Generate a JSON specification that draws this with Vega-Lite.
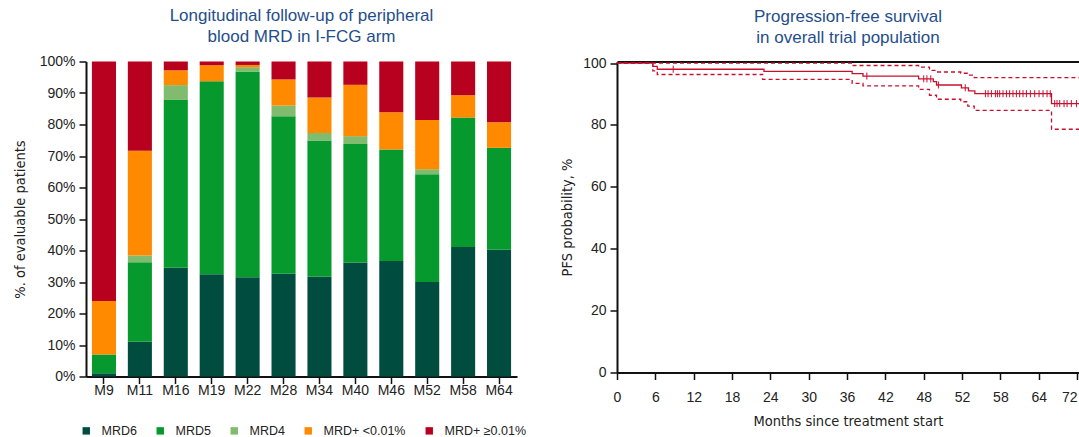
{
  "$schema": "https://vega.github.io/schema/vega-lite/v6.json",
  "padding": {"left": 12, "top": 6.5, "right": 0, "bottom": 0},
  "spacing": 42,
  "config": {
    "view": {"stroke": null},
    "font": "Liberation Sans",
    "axis": {
      "labelFont": "Liberation Sans",
      "labelFontSize": 14,
      "labelColor": "#222222",
      "domainColor": "#111111",
      "domainWidth": 2,
      "tickColor": "#111111",
      "tickWidth": 1.5,
      "tickSize": 7,
      "grid": false,
      "titleFont": "Liberation Sans Narrow, DejaVu Sans Condensed, Liberation Sans",
      "titleFontWeight": "normal",
      "titleFontSize": 14.5,
      "titleColor": "#222222"
    },
    "title": {
      "font": "Liberation Sans",
      "fontSize": 17,
      "fontWeight": "normal",
      "color": "#1f4e8c",
      "lineHeight": 21,
      "offset": 9,
      "anchor": "middle"
    },
    "legend": {
      "labelFont": "Liberation Sans",
      "labelFontSize": 12.5,
      "labelColor": "#222222"
    }
  },
  "hconcat": [
    {
      "title": {"text": ["Longitudinal follow-up of peripheral", "blood MRD in I-FCG arm"]},
      "width": 431,
      "height": 315,
      "data": {
        "values": [
          {"visit": "M9", "status": "MRD6", "k": 1, "pct": 1},
          {"visit": "M9", "status": "MRD5", "k": 2, "pct": 6},
          {"visit": "M9", "status": "MRD+ <0.01%", "k": 4, "pct": 17},
          {"visit": "M9", "status": "MRD+ ≥0.01%", "k": 5, "pct": 76},
          {"visit": "M11", "status": "MRD6", "k": 1, "pct": 11},
          {"visit": "M11", "status": "MRD5", "k": 2, "pct": 25.3},
          {"visit": "M11", "status": "MRD4", "k": 3, "pct": 2.1},
          {"visit": "M11", "status": "MRD+ <0.01%", "k": 4, "pct": 33.3},
          {"visit": "M11", "status": "MRD+ ≥0.01%", "k": 5, "pct": 28.3},
          {"visit": "M16", "status": "MRD6", "k": 1, "pct": 34.5},
          {"visit": "M16", "status": "MRD5", "k": 2, "pct": 53.4},
          {"visit": "M16", "status": "MRD4", "k": 3, "pct": 4.6},
          {"visit": "M16", "status": "MRD+ <0.01%", "k": 4, "pct": 4.7},
          {"visit": "M16", "status": "MRD+ ≥0.01%", "k": 5, "pct": 2.8},
          {"visit": "M19", "status": "MRD6", "k": 1, "pct": 32.5},
          {"visit": "M19", "status": "MRD5", "k": 2, "pct": 61.2},
          {"visit": "M19", "status": "MRD+ <0.01%", "k": 4, "pct": 5.1},
          {"visit": "M19", "status": "MRD+ ≥0.01%", "k": 5, "pct": 1.2},
          {"visit": "M22", "status": "MRD6", "k": 1, "pct": 31.5},
          {"visit": "M22", "status": "MRD5", "k": 2, "pct": 65.2},
          {"visit": "M22", "status": "MRD4", "k": 3, "pct": 1.5},
          {"visit": "M22", "status": "MRD+ <0.01%", "k": 4, "pct": 0.7},
          {"visit": "M22", "status": "MRD+ ≥0.01%", "k": 5, "pct": 1.1},
          {"visit": "M28", "status": "MRD6", "k": 1, "pct": 32.6},
          {"visit": "M28", "status": "MRD5", "k": 2, "pct": 50.0},
          {"visit": "M28", "status": "MRD4", "k": 3, "pct": 3.4},
          {"visit": "M28", "status": "MRD+ <0.01%", "k": 4, "pct": 8.3},
          {"visit": "M28", "status": "MRD+ ≥0.01%", "k": 5, "pct": 5.7},
          {"visit": "M34", "status": "MRD6", "k": 1, "pct": 31.7},
          {"visit": "M34", "status": "MRD5", "k": 2, "pct": 43.2},
          {"visit": "M34", "status": "MRD4", "k": 3, "pct": 2.4},
          {"visit": "M34", "status": "MRD+ <0.01%", "k": 4, "pct": 11.3},
          {"visit": "M34", "status": "MRD+ ≥0.01%", "k": 5, "pct": 11.4},
          {"visit": "M40", "status": "MRD6", "k": 1, "pct": 36.2},
          {"visit": "M40", "status": "MRD5", "k": 2, "pct": 37.6},
          {"visit": "M40", "status": "MRD4", "k": 3, "pct": 2.5},
          {"visit": "M40", "status": "MRD+ <0.01%", "k": 4, "pct": 16.3},
          {"visit": "M40", "status": "MRD+ ≥0.01%", "k": 5, "pct": 7.4},
          {"visit": "M46", "status": "MRD6", "k": 1, "pct": 36.7},
          {"visit": "M46", "status": "MRD5", "k": 2, "pct": 35.4},
          {"visit": "M46", "status": "MRD+ <0.01%", "k": 4, "pct": 11.8},
          {"visit": "M46", "status": "MRD+ ≥0.01%", "k": 5, "pct": 16.1},
          {"visit": "M52", "status": "MRD6", "k": 1, "pct": 30.0},
          {"visit": "M52", "status": "MRD5", "k": 2, "pct": 34.2},
          {"visit": "M52", "status": "MRD4", "k": 3, "pct": 1.6},
          {"visit": "M52", "status": "MRD+ <0.01%", "k": 4, "pct": 15.6},
          {"visit": "M52", "status": "MRD+ ≥0.01%", "k": 5, "pct": 18.6},
          {"visit": "M58", "status": "MRD6", "k": 1, "pct": 41.1},
          {"visit": "M58", "status": "MRD5", "k": 2, "pct": 41.1},
          {"visit": "M58", "status": "MRD+ <0.01%", "k": 4, "pct": 7.1},
          {"visit": "M58", "status": "MRD+ ≥0.01%", "k": 5, "pct": 10.7},
          {"visit": "M64", "status": "MRD6", "k": 1, "pct": 40.2},
          {"visit": "M64", "status": "MRD5", "k": 2, "pct": 32.4},
          {"visit": "M64", "status": "MRD+ <0.01%", "k": 4, "pct": 8.1},
          {"visit": "M64", "status": "MRD+ ≥0.01%", "k": 5, "pct": 19.3}
        ]
      },
      "mark": {"type": "bar"},
      "encoding": {
        "x": {
          "field": "visit",
          "type": "ordinal",
          "sort": null,
          "scale": {"paddingInner": 0.33, "paddingOuter": 0.165},
          "axis": {"title": null, "labelAngle": 0, "labelPadding": 0}
        },
        "y": {
          "field": "pct",
          "type": "quantitative",
          "stack": "zero",
          "scale": {"domain": [0, 100], "nice": false},
          "axis": {
            "values": [0, 10, 20, 30, 40, 50, 60, 70, 80, 90, 100],
            "labelExpr": "datum.value + '%'",
            "title": "%. of evaluable patients",
            "labelPadding": 4,
            "titlePadding": 12
          }
        },
        "color": {
          "field": "status",
          "type": "nominal",
          "scale": {
            "domain": ["MRD6", "MRD5", "MRD4", "MRD+ <0.01%", "MRD+ ≥0.01%"],
            "range": ["#004d40", "#05992e", "#80bb6e", "#ff8a00", "#b8001f"]
          },
          "legend": {
            "title": null,
            "orient": "none",
            "direction": "horizontal",
            "legendX": -6,
            "legendY": 363,
            "symbolType": "square",
            "symbolSize": 55,
            "symbolStrokeWidth": 0,
            "labelOffset": 9,
            "columnPadding": 17
          }
        },
        "order": {"field": "k", "type": "quantitative"}
      }
    },
    {
      "title": {"text": ["Progression-free survival", "in overall trial population"]},
      "width": 462,
      "height": 311,
      "layer": [
        {
          "data": {
            "values": [
              {"series": "estimate", "t": 0, "s": 100},
              {"series": "estimate", "t": 5.6, "s": 98.9},
              {"series": "estimate", "t": 6.3, "s": 98.0},
              {"series": "estimate", "t": 23.0, "s": 97.3},
              {"series": "estimate", "t": 36.8, "s": 96.6},
              {"series": "estimate", "t": 38.5, "s": 95.8},
              {"series": "estimate", "t": 47.2, "s": 94.9},
              {"series": "estimate", "t": 49.5, "s": 94.0},
              {"series": "estimate", "t": 50.0, "s": 92.9},
              {"series": "estimate", "t": 53.9, "s": 92.0},
              {"series": "estimate", "t": 55.0, "s": 91.0},
              {"series": "estimate", "t": 56.0, "s": 90.1},
              {"series": "estimate", "t": 68.0, "s": 86.9},
              {"series": "estimate", "t": 72.3, "s": 86.9},
              {"series": "upper", "t": 0, "s": 100},
              {"series": "upper", "t": 36.8, "s": 99.2},
              {"series": "upper", "t": 47.2, "s": 98.7},
              {"series": "upper", "t": 48.9, "s": 97.6},
              {"series": "upper", "t": 50.0, "s": 97.1},
              {"series": "upper", "t": 53.8, "s": 96.7},
              {"series": "upper", "t": 54.9, "s": 96.1},
              {"series": "upper", "t": 55.9, "s": 95.3},
              {"series": "upper", "t": 72.3, "s": 95.3},
              {"series": "lower", "t": 0, "s": 100},
              {"series": "lower", "t": 5.6, "s": 97.5},
              {"series": "lower", "t": 6.3, "s": 96.3},
              {"series": "lower", "t": 22.8, "s": 94.7},
              {"series": "lower", "t": 36.8, "s": 93.4},
              {"series": "lower", "t": 38.5, "s": 92.6},
              {"series": "lower", "t": 47.2, "s": 91.5},
              {"series": "lower", "t": 48.9, "s": 89.6},
              {"series": "lower", "t": 50.0, "s": 88.3},
              {"series": "lower", "t": 53.8, "s": 87.5},
              {"series": "lower", "t": 54.9, "s": 86.1},
              {"series": "lower", "t": 55.9, "s": 84.7},
              {"series": "lower", "t": 68.0, "s": 78.6},
              {"series": "lower", "t": 72.3, "s": 78.6}
            ]
          },
          "mark": {"type": "line", "interpolate": "step-after", "strokeWidth": 1.3, "color": "#c8102e"},
          "encoding": {
            "x": {
              "field": "t",
              "type": "quantitative",
              "scale": {"domain": [0, 72.3], "nice": false, "zero": false},
              "axis": {
                "values": [0, 6, 12, 18, 24, 30, 36, 42, 48, 54, 60, 66, 72],
                "labelExpr": "datum.value == 54 ? '52' : datum.value == 60 ? '58' : datum.value == 66 ? '64' : datum.label",
                "labelAlign": {"condition": {"test": "datum.value === 72", "value": "right"}, "value": "center"},
                "labelPadding": 11,
                "title": "Months since treatment start",
                "titlePadding": 10
              }
            },
            "y": {
              "field": "s",
              "type": "quantitative",
              "scale": {"domain": [0, 100.5], "nice": false},
              "axis": {
                "values": [0, 20, 40, 60, 80, 100],
                "title": "PFS probability, %",
                "labelPadding": 4,
                "titlePadding": 8
              }
            },
            "detail": {"field": "series"},
            "strokeDash": {
              "field": "series",
              "type": "nominal",
              "scale": {"domain": ["estimate", "upper", "lower"], "range": [[1, 0], [4, 3], [4, 3]]},
              "legend": null
            }
          }
        },
        {
          "data": {
            "values": [
              {"t": 8.8, "s": 98.0},
              {"t": 39.1, "s": 95.8},
              {"t": 48.0, "s": 94.9},
              {"t": 48.5, "s": 94.9},
              {"t": 49.1, "s": 94.9},
              {"t": 50.3, "s": 92.9},
              {"t": 54.5, "s": 92.0},
              {"t": 57.65, "s": 90.1},
              {"t": 58.07, "s": 90.1},
              {"t": 58.59, "s": 90.1},
              {"t": 59.22, "s": 90.1},
              {"t": 59.53, "s": 90.1},
              {"t": 59.89, "s": 90.1},
              {"t": 60.41, "s": 90.1},
              {"t": 60.94, "s": 90.1},
              {"t": 61.45, "s": 90.1},
              {"t": 61.97, "s": 90.1},
              {"t": 62.5, "s": 90.1},
              {"t": 63.02, "s": 90.1},
              {"t": 63.54, "s": 90.1},
              {"t": 64.07, "s": 90.1},
              {"t": 64.69, "s": 90.1},
              {"t": 65.37, "s": 90.1},
              {"t": 66.05, "s": 90.1},
              {"t": 66.67, "s": 90.1},
              {"t": 67.3, "s": 90.1},
              {"t": 67.8, "s": 90.1},
              {"t": 68.5, "s": 86.9},
              {"t": 68.86, "s": 86.9},
              {"t": 69.28, "s": 86.9},
              {"t": 69.96, "s": 86.9},
              {"t": 70.43, "s": 86.9},
              {"t": 71.1, "s": 86.9},
              {"t": 71.9, "s": 86.9}
            ]
          },
          "mark": {"type": "point", "shape": "M0,-1V1", "size": 50, "filled": false, "color": "#c8102e", "strokeWidth": 1, "opacity": 1},
          "encoding": {
            "x": {
              "field": "t",
              "type": "quantitative",
              "axis": {"orient": "top", "labels": false, "ticks": false, "title": null, "domainWidth": 2}
            },
            "y": {"field": "s", "type": "quantitative"}
          }
        }
      ],
      "resolve": {"axis": {"x": "independent"}}
    }
  ]
}
